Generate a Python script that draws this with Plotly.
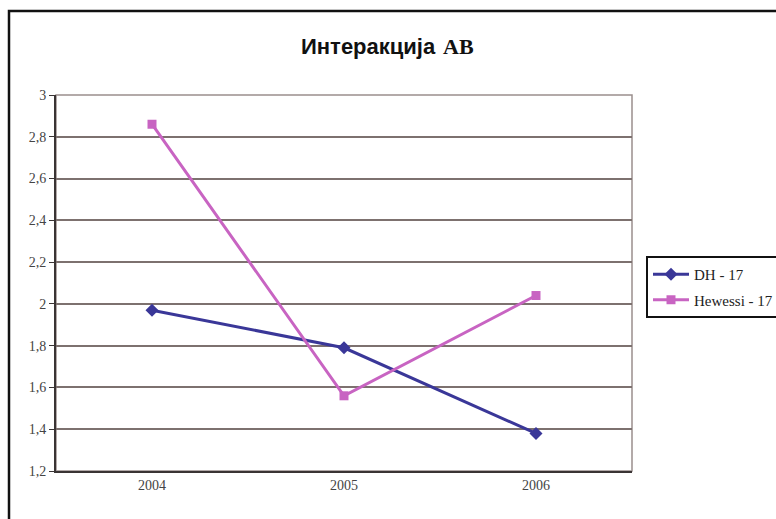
import plotly.graph_objects as go

years = ["2004", "2005", "2006"]
dh_values = [1.97, 1.79, 1.38]
hewessi_values = [2.86, 1.56, 2.04]
series_names = ["DH - 17", "Hewessi - 17"]
y_tick_vals = [1.2, 1.4, 1.6, 1.8, 2.0, 2.2, 2.4, 2.6, 2.8, 3.0]
y_tick_text = ["1,2", "1,4", "1,6", "1,8", "2", "2,2", "2,4", "2,6", "2,8", "3"]
title_main = "Интеракција"
title_tail = "АВ"

W, H = 776, 519
L, R, T, B = 56, 632, 95, 471
pw, ph = R - L, B - T

def px_x(x):
    return (x - L) / pw

def px_y(y):
    return (B - y) / ph

serif = "Liberation Serif, Times New Roman, serif"
sans = "Liberation Sans, Arial, sans-serif"
fig = go.Figure()
fig.add_trace(go.Scatter(
    x=years, y=dh_values, name=series_names[0], mode="lines+markers",
    legendgroup="a",
    line=dict(color="#3a3798", width=3),
    marker=dict(symbol="diamond", size=10, color="#3a3798"),
))
fig.add_trace(go.Scatter(
    x=years, y=hewessi_values, name=series_names[1], mode="lines+markers",
    legendgroup="b",
    line=dict(color="#c864c2", width=3),
    marker=dict(symbol="square", size=9, color="#c864c2"),
))

fig.update_layout(
    width=W, height=H,
    margin=dict(l=L, r=W - R, t=T, b=H - B, pad=0, autoexpand=False),
    paper_bgcolor="white", plot_bgcolor="white",
    showlegend=True,
    legend=dict(x=px_x(646), y=px_y(256), xanchor="left", yanchor="top",
                bordercolor="#111111", borderwidth=2, bgcolor="white",
                font=dict(family=serif, size=15, color="#222222"),
                tracegroupgap=3, itemwidth=36),
    xaxis=dict(type="category", range=[-0.5, 2.5], showgrid=False,
               showline=True, linecolor="#3a3434", linewidth=2,
               ticks="", tickfont=dict(family=serif, size=14, color="#444444"),
               fixedrange=True),
    yaxis=dict(range=[1.2, 3.0], tickvals=y_tick_vals, ticktext=y_tick_text,
               showgrid=True, gridcolor="#7d716f", gridwidth=1.5,
               showline=True, linecolor="#3a3434", linewidth=2,
               ticks="outside", ticklen=5, tickcolor="#3a3434",
               tickfont=dict(family=serif, size=14, color="#444444"),
               zeroline=False),
    annotations=[
        dict(text="<b>" + title_main + "</b>", xref="paper", yref="paper",
             x=px_x(438), y=px_y(46), xanchor="right", yanchor="middle",
             showarrow=False, font=dict(family=sans, size=22, color="#111111")),
        dict(text="<b>" + title_tail + "</b>", xref="paper", yref="paper",
             x=px_x(441), y=px_y(46), xanchor="left", yanchor="middle",
             showarrow=False, font=dict(family=serif, size=22, color="#111111")),
    ],
    shapes=[
        dict(type="rect", xref="paper", yref="paper", x0=0, x1=1, y0=0, y1=1,
             line=dict(color="#9a8f8d", width=1.5), layer="below"),
        dict(type="rect", xref="paper", yref="paper",
             x0=px_x(9), x1=px_x(W + 40), y0=px_y(H + 40), y1=px_y(11),
             line=dict(color="#111111", width=2.5), layer="below"),
    ],
)

fig.write_html("out.html", config={"displayModeBar": False},
               post_script="document.body.style.margin='0';document.body.style.overflow='hidden';")
